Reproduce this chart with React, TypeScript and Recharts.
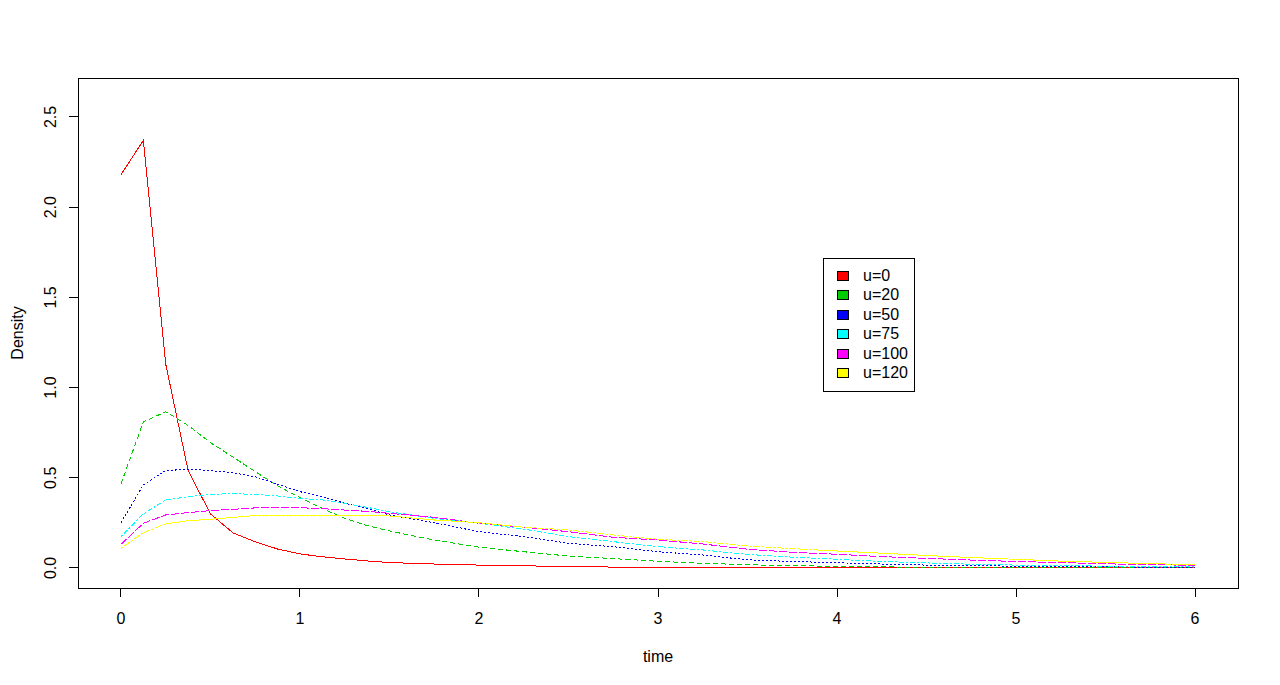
import React from 'react';
import { LineChart, Line, XAxis, YAxis, ReferenceArea, Legend } from 'recharts';

const times = [0, 0.125, 0.25, 0.375, 0.5, 0.625, 0.75, 0.875, 1, 1.125, 1.25, 1.375, 1.5, 1.75, 2, 2.25, 2.5, 2.75, 3, 3.25, 3.5, 3.75, 4, 4.25, 4.5, 4.75, 5, 5.25, 5.5, 5.75, 6];
const u0 = [2.18, 2.37, 1.13, 0.54, 0.3, 0.195, 0.145, 0.105, 0.078, 0.062, 0.05, 0.039, 0.03, 0.022, 0.016, 0.012, 0.008, 0.005, 0.004, 0.004, 0.004, 0.002, 0.001, 0.001, 0, 0, 0, 0, 0, 0, 0];
const u20 = [0.466, 0.81, 0.866, 0.79, 0.695, 0.615, 0.534, 0.455, 0.39, 0.33, 0.275, 0.235, 0.205, 0.155, 0.115, 0.09, 0.066, 0.052, 0.037, 0.026, 0.018, 0.013, 0.009, 0.006, 0.004, 0.003, 0.002, 0.002, 0.001, 0.001, 0.001];
const u50 = [0.251, 0.46, 0.54, 0.547, 0.54, 0.528, 0.506, 0.465, 0.423, 0.395, 0.359, 0.33, 0.294, 0.251, 0.201, 0.174, 0.137, 0.118, 0.09, 0.072, 0.045, 0.036, 0.029, 0.022, 0.016, 0.013, 0.01, 0.008, 0.006, 0.005, 0.004];
const u75 = [0.174, 0.3, 0.377, 0.395, 0.408, 0.412, 0.408, 0.399, 0.386, 0.377, 0.359, 0.336, 0.312, 0.275, 0.248, 0.215, 0.174, 0.146, 0.118, 0.1, 0.075, 0.06, 0.048, 0.036, 0.028, 0.021, 0.016, 0.013, 0.01, 0.008, 0.007];
const u100 = [0.131, 0.248, 0.294, 0.307, 0.318, 0.325, 0.333, 0.336, 0.334, 0.329, 0.321, 0.314, 0.303, 0.281, 0.248, 0.226, 0.201, 0.17, 0.155, 0.133, 0.104, 0.087, 0.076, 0.063, 0.053, 0.044, 0.036, 0.03, 0.023, 0.018, 0.015];
const u120 = [0.109, 0.196, 0.244, 0.262, 0.27, 0.281, 0.29, 0.292, 0.292, 0.292, 0.292, 0.292, 0.288, 0.266, 0.251, 0.226, 0.211, 0.183, 0.159, 0.146, 0.122, 0.107, 0.094, 0.082, 0.069, 0.058, 0.048, 0.038, 0.031, 0.024, 0.018];

const xTicks = [0, 1, 2, 3, 4, 5, 6];
const yTicks = [0, 0.5, 1, 1.5, 2, 2.5];

const seriesKeys = ['u0', 'u20', 'u50', 'u75', 'u100', 'u120'];
const seriesNames = ['u=0', 'u=20', 'u=50', 'u=75', 'u=100', 'u=120'];
const seriesColors = ['#FF0000', '#00CD00', '#0000FF', '#00FFFF', '#FF00FF', '#FFFF00'];
const seriesDash = ['', '5 3', '2 2', '2 2 5 2', '8 2', '3 1 7 1'];
const seriesValues = [u0, u20, u50, u75, u100, u120];

const data = times.map((t, i) => {
  const row: any = { t };
  seriesKeys.forEach((k, j) => {
    row[k] = seriesValues[j][i];
  });
  return row;
});

const FONT = '"Liberation Sans", Arial, sans-serif';
const X_DOMAIN = [-0.24, 6.24];
const Y_DOMAIN = [-0.111, 2.716];

const XTick = (props: any) => {
  const { x, y, payload } = props;
  return (
    <text x={x} y={y} textAnchor="middle" fontSize={16} fontFamily={FONT} fill="#000">
      {String(payload.value)}
    </text>
  );
};

const YTick = (props: any) => {
  const { x, y, payload } = props;
  return (
    <text x={x} y={y} textAnchor="middle" fontSize={16} fontFamily={FONT} fill="#000" transform={`rotate(-90 ${x} ${y})`}>
      {Number(payload.value).toFixed(1)}
    </text>
  );
};

const XTitle = (props: any) => {
  const vb = props.viewBox || { x: 78, y: 588, width: 1160, height: 97 };
  const cx = vb.x + vb.width / 2;
  const cy = vb.y + 74;
  return (
    <text x={cx} y={cy} textAnchor="middle" fontSize={16} fontFamily={FONT} fill="#000">time</text>
  );
};

const YTitle = (props: any) => {
  const vb = props.viewBox || { x: 0, y: 78, width: 78, height: 510 };
  const cx = vb.x + 23;
  const cy = vb.y + vb.height / 2;
  return (
    <text x={cx} y={cy} textAnchor="middle" fontSize={16} fontFamily={FONT} fill="#000" transform={`rotate(-90 ${cx} ${cy})`}>Density</text>
  );
};

const LegendBox = () => {
  const w = 92;
  const h = 134;
  return (
    <svg width={w} height={h} style={{ display: 'block' }}>
      <rect x={0.5} y={0.5} width={w - 1} height={h - 1} fill="#fff" stroke="#000" strokeWidth={1} shapeRendering="crispEdges" />
      {seriesNames.map((name, i) => {
        const cy = 17.5 + i * 19.4;
        return (
          <g key={name}>
            <rect x={14.5} y={Math.round(cy - 4.5) + 0.5} width={11} height={9} fill={seriesColors[i]} stroke="#000" strokeWidth={1} shapeRendering="crispEdges" />
            <text x={40} y={cy} dominantBaseline="central" fontSize={16} fontFamily={FONT} fill="#000">{name}</text>
          </g>
        );
      })}
    </svg>
  );
};

export default function App() {
  return (
    <div style={{ position: 'absolute', left: 0, top: 0, width: 1280, height: 685, background: '#fff', shapeRendering: 'crispEdges' } as any}>
      <LineChart width={1280} height={685} data={data} margin={{ top: 78, right: 42, bottom: 0, left: 0 }}>
        <XAxis
          dataKey="t"
          type="number"
          domain={X_DOMAIN}
          ticks={xTicks}
          allowDataOverflow
          axisLine={false}
          tickLine={{ stroke: '#000' }}
          tickSize={9}
          tickMargin={27}
          height={97}
          tick={<XTick />}
          label={<XTitle />}
        />
        <YAxis
          type="number"
          domain={Y_DOMAIN}
          ticks={yTicks}
          allowDataOverflow
          axisLine={false}
          tickLine={{ stroke: '#000' }}
          tickSize={9}
          tickMargin={13}
          width={78}
          tick={<YTick />}
          label={<YTitle />}
        />
        <ReferenceArea x1={X_DOMAIN[0]} x2={X_DOMAIN[1]} y1={Y_DOMAIN[0]} y2={Y_DOMAIN[1]} fill="none" fillOpacity={0} stroke="#000" strokeWidth={1} ifOverflow="visible" />
        {seriesKeys.map((k, i) => (
          <Line
            key={k}
            dataKey={k}
            name={seriesNames[i]}
            type="linear"
            stroke={seriesColors[i]}
            strokeWidth={1}
            strokeDasharray={seriesDash[i] || undefined}
            dot={false}
            activeDot={false}
            isAnimationActive={false}
          />
        ))}
        <Legend
          layout="vertical"
          align="center"
          verticalAlign="middle"
          wrapperStyle={{ left: 823, top: 258, width: 92, height: 134 }}
          content={<LegendBox />}
        />
      </LineChart>
    </div>
  );
}
